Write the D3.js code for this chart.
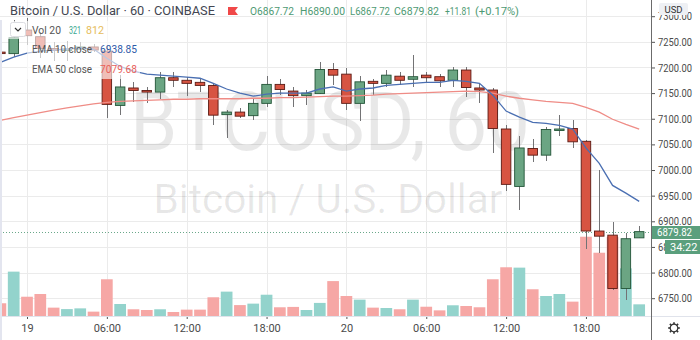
<!DOCTYPE html>
<meta charset="utf-8">
<style>
body { margin: 0; background: #fff; }
svg { display: block; font-family: Roboto, "Liberation Sans", sans-serif; }
.grid line { stroke: #ebebeb; stroke-width: 1px; shape-rendering: crispEdges; }
.axis text { fill: #4a4a4a; font-size: 11px; font-family: Roboto, sans-serif; }
.axis line { stroke: #555; }
.axis path { display: none; }
.wick { stroke: #737375; stroke-width: 1px; shape-rendering: crispEdges; }
.legend { font-size: 11px; fill: #555; }
</style>
<svg width="700" height="340"></svg>
<script src="https://d3js.org/d3.v7.min.js"></script>
<script>

// hourly candles, 18 Dec 22:00 -> 20 Dec 22:00
var hours = d3.utcHour.range(new Date(Date.UTC(2019, 11, 18, 22)), new Date(Date.UTC(2019, 11, 20, 23)));

var open  = [7230, 7227, 7273, 7260, 7237, 7233, 7236, 7240, 7232, 7126, 7160, 7155, 7152, 7180, 7175, 7171, 7165,
             7108, 7113, 7106, 7130, 7167, 7154, 7145, 7149, 7196, 7187, 7130, 7173, 7169, 7183, 7177, 7185,
             7182, 7175, 7195, 7160, 7156, 7080, 6968, 7042, 7029, 7078, 7081, 7056, 6881, 6873, 6769, 6867.72];
var high  = [7236, 7292, 7296, 7269, 7250, 7252, 7250, 7246, 7243, 7185, 7172, 7162, 7191, 7191, 7182, 7177, 7168,
             7117, 7120, 7138, 7183, 7177, 7161, 7157, 7211, 7209, 7198, 7183, 7178, 7196, 7191, 7224, 7191,
             7188, 7201, 7200, 7167, 7159, 7087, 7066, 7061, 7084, 7107, 7097, 7058, 7000, 6899, 6877, 6890.00];
var low   = [7222, 7220, 7243, 7218, 7212, 7212, 7232, 7230, 7101, 7107, 7133, 7130, 7138, 7162, 7144, 7152, 7087,
             7062, 7101, 7098, 7123, 7146, 7122, 7126, 7149, 7165, 7118, 7096, 7146, 7162, 7165, 7162, 7172,
             7162, 7162, 7143, 7130, 7033, 6959, 6922, 7016, 7018, 7066, 7042, 6846, 6838, 6766, 6747, 6867.72];
var close = [7228, 7258, 7262, 7237, 7233, 7236, 7240, 7234, 7128, 7162, 7155, 7152, 7180, 7175, 7169, 7165, 7107,
             7113, 7105, 7130, 7167, 7157, 7145, 7150, 7196, 7185, 7130, 7172, 7169, 7185, 7175, 7182, 7180,
             7174, 7195, 7161, 7156, 7081, 6972, 7043, 7029, 7079, 7080, 7055, 6881, 6871, 6769, 6866, 6879.82];
var volume = [350, 1220, 530, 605, 230, 190, 210, 120, 1010, 330, 185, 165, 185, 110, 175, 175, 515,
              670, 300, 340, 585, 240, 250, 165, 360, 960, 550, 450, 230, 220, 185, 450, 255,
              155, 295, 275, 240, 1010, 1340, 1330, 735, 550, 605, 395, 2180, 1740, 2170, 1310, 321];
var ema10 = [7210, 7220, 7228, 7232, 7234, 7236, 7238, 7236, 7218, 7202, 7193, 7187, 7185, 7183, 7181, 7179, 7169,
             7158, 7150, 7144, 7148, 7150, 7150, 7150, 7158, 7162, 7154, 7158, 7160, 7165, 7167, 7169, 7171,
             7171, 7175, 7173, 7169, 7146, 7115, 7103, 7093, 7091, 7087, 7080, 7043, 7013, 6970, 6955, 6938.85];
var ema50 = [7097, 7102, 7107, 7112, 7117, 7121, 7125, 7129, 7132, 7134, 7135, 7136, 7137, 7138, 7138, 7139, 7139,
             7139, 7139, 7140, 7140, 7141, 7141, 7142, 7143, 7144, 7144, 7145, 7146, 7148, 7149, 7150, 7151,
             7152, 7153, 7154, 7153, 7150, 7144, 7140, 7137, 7134, 7132, 7130, 7122, 7113, 7099, 7089, 7079.68];

var priceTicks = [6750, 6800, 6850, 6900, 6950, 7000, 7050, 7100, 7150, 7200, 7250, 7300];
var timeTicks = [Date.UTC(2019, 11, 19, 0), Date.UTC(2019, 11, 19, 6), Date.UTC(2019, 11, 19, 12), Date.UTC(2019, 11, 19, 18),
                 Date.UTC(2019, 11, 20, 0), Date.UTC(2019, 11, 20, 6), Date.UTC(2019, 11, 20, 12), Date.UTC(2019, 11, 20, 18)];
var timeLabels = ["19", "06:00", "12:00", "18:00", "20", "06:00", "12:00", "18:00"];

var lastPrice = close[close.length - 1];

var data = hours.map(function(t, i) {
  return {t: t, o: open[i], h: high[i], l: low[i], c: close[i], v: volume[i], e10: ema10[i], e50: ema50[i]};
});

var svg = d3.select("svg"),
    plotW = 651,
    plotH = 316;

var x = d3.scaleUtc()
    .domain([new Date(timeTicks[0]), new Date(timeTicks[4])])
    .range([27, 346.4]);
var y = d3.scaleLinear().domain([6750, 7300]).range([298.2, 16.2]);
var yv = d3.scaleLinear().domain([0, 2200]).range([plotH, plotH - 80]);

var step = x(hours[1]) - x(hours[0]),
    bodyW = 9.5,
    volW = step - 1.6;

svg.append("defs").append("clipPath").attr("id", "plot")
  .append("rect").attr("width", plotW).attr("height", plotH);

// grid
var grid = svg.append("g").attr("class", "grid");
grid.selectAll(".h").data(priceTicks).enter().append("line")
    .attr("x1", 0).attr("x2", plotW)
    .attr("y1", function(d) { return Math.round(y(d)) + 0.5; })
    .attr("y2", function(d) { return Math.round(y(d)) + 0.5; });
grid.selectAll(".v").data(timeTicks).enter().append("line")
    .attr("y1", 0).attr("y2", plotH)
    .attr("x1", function(d) { return Math.round(x(d)) + 0.5; })
    .attr("x2", function(d) { return Math.round(x(d)) + 0.5; });

var plot = svg.append("g").attr("clip-path", "url(#plot)");

// watermark
plot.append("text")
    .attr("x", 330).attr("y", 150)
    .attr("text-anchor", "middle")
    .attr("textLength", 400).attr("lengthAdjust", "spacingAndGlyphs")
    .style("font-size", "82px").style("fill", "rgba(0,0,0,0.09)")
    .text("BTCUSD, 60");
plot.append("text")
    .attr("x", 328).attr("y", 213)
    .attr("text-anchor", "middle")
    .attr("textLength", 349).attr("lengthAdjust", "spacingAndGlyphs")
    .style("font-size", "41px").style("fill", "rgba(0,0,0,0.09)")
    .text("Bitcoin / U.S. Dollar");

// volume
plot.selectAll(".vol").data(data).enter().append("rect")
    .attr("x", function(d) { return x(d.t) - volW / 2; })
    .attr("y", function(d) { return yv(d.v); })
    .attr("width", volW)
    .attr("height", function(d) { return plotH - yv(d.v); })
    .style("fill", function(d) { return d.c >= d.o ? "#93d3cc" : "#f6a7a5"; });

// last price dotted line
plot.append("line")
    .attr("x1", 0).attr("x2", plotW)
    .attr("y1", Math.round(y(lastPrice)) + 0.5).attr("y2", Math.round(y(lastPrice)) + 0.5)
    .style("stroke", "#6aa88a").style("stroke-dasharray", "1,2");

// candles
var candle = plot.selectAll(".candle").data(data).enter().append("g");
candle.append("line").attr("class", "wick")
    .attr("x1", function(d) { return Math.round(x(d.t)) + 0.5; })
    .attr("x2", function(d) { return Math.round(x(d.t)) + 0.5; })
    .attr("y1", function(d) { return y(d.h); })
    .attr("y2", function(d) { return y(d.l); });
candle.append("rect")
    .attr("x", function(d) { return x(d.t) - bodyW / 2; })
    .attr("y", function(d) { return y(Math.max(d.o, d.c)); })
    .attr("width", bodyW)
    .attr("height", function(d) { return Math.max(1.5, Math.abs(y(d.o) - y(d.c))); })
    .style("fill", function(d) { return d.c >= d.o ? "#6ba583" : "#d75442"; })
    .style("stroke", function(d) { return d.c >= d.o ? "#225437" : "#5b1a13"; })
    .style("stroke-width", 0.9);

// EMAs
var ema = function(key) {
  return d3.line().x(function(d) { return x(d.t); }).y(function(d) { return y(d[key]); });
};
plot.append("path").datum(data).attr("d", ema("e50"))
    .style("fill", "none").style("stroke", "#ef8c86").style("stroke-width", 1.3);
plot.append("path").datum(data).attr("d", ema("e10"))
    .style("fill", "none").style("stroke", "#4a6fb2").style("stroke-width", 1.3);

// legend
var f2 = d3.format(".2f");
var leg = svg.append("g");
leg.append("rect").attr("x", 8).attr("y", 21).attr("width", 102).attr("height", 18).style("fill", "rgba(255,255,255,0.62)");
leg.append("rect").attr("x", 27).attr("y", 39).attr("width", 113).attr("height", 20).style("fill", "rgba(255,255,255,0.62)");
leg.append("rect").attr("x", 27).attr("y", 59).attr("width", 113).attr("height", 20).style("fill", "rgba(255,255,255,0.62)");
leg.append("rect").attr("x", 10.5).attr("y", 22.5).attr("width", 15).attr("height", 14).attr("rx", 2)
    .style("fill", "#fff").style("stroke", "#dcdde2");
leg.append("path").attr("d", "M15,28 L18,31 L21,28").style("fill", "none").style("stroke", "#333").style("stroke-width", 1.2);

var legendItems = [
  {x: 32, y: 33.5, w: 29, s: "Vol 20", c: "#555"},
  {x: 69, y: 33.5, w: 12, s: String(volume[volume.length - 1]), c: "#3aa88f"},
  {x: 86, y: 33.5, w: 18, s: "812", c: "#e6bd5c"},
  {x: 32, y: 53, w: 60, s: "EMA 10 close", c: "#555"},
  {x: 100, y: 53, w: 37, s: f2(ema10[ema10.length - 1]), c: "#2e5aa8"},
  {x: 32, y: 73, w: 60, s: "EMA 50 close", c: "#555"},
  {x: 100, y: 73, w: 37, s: f2(ema50[ema50.length - 1]), c: "#e8605a"}
];
leg.selectAll(".legend").data(legendItems).enter().append("text")
    .attr("class", "legend")
    .attr("x", function(d) { return d.x; }).attr("y", function(d) { return d.y; })
    .attr("textLength", function(d) { return d.w; }).attr("lengthAdjust", "spacingAndGlyphs")
    .style("fill", function(d) { return d.c; })
    .text(function(d) { return d.s; });

// title row
svg.append("text").attr("x", 10).attr("y", 15).style("font-size", "13px").style("fill", "#434651")
    .attr("textLength", 205).attr("lengthAdjust", "spacingAndGlyphs")
    .text("Bitcoin / U.S. Dollar \u00b7 60 \u00b7 COINBASE");
svg.append("path").attr("d", "M228,7 L238,7 L235,11 L238,15 L228,15 Z").style("fill", "#f04848");

var ohlc = [
  {x: 250, w: 44, s: "O" + f2(open[open.length - 1])},
  {x: 300, w: 45, s: "H" + f2(high[high.length - 1])},
  {x: 350, w: 40, s: "L" + f2(low[low.length - 1])},
  {x: 394, w: 45, s: "C" + f2(lastPrice)},
  {x: 445, w: 26, s: "+11.81"},
  {x: 475, w: 44, s: "(+0.17%)"}
];
svg.selectAll(".ohlc").data(ohlc).enter().append("text")
    .attr("x", function(d) { return d.x; }).attr("y", 15)
    .attr("textLength", function(d) { return d.w; }).attr("lengthAdjust", "spacingAndGlyphs")
    .style("font-size", "11.5px").style("fill", "#4e9a73")
    .text(function(d) { return d.s; });

// price axis
svg.append("g").attr("class", "axis")
    .attr("transform", "translate(" + plotW + ",0)")
    .call(d3.axisRight(y).tickValues(priceTicks).tickFormat(f2).tickSize(4).tickPadding(3))
  .selectAll("text")
    .attr("textLength", 34).attr("lengthAdjust", "spacingAndGlyphs");

// time axis
svg.append("g").attr("class", "axis")
    .attr("transform", "translate(0," + plotH + ")")
    .call(d3.axisBottom(x).tickValues(timeTicks.map(function(d) { return new Date(d); }))
      .tickFormat(function(d, i) { return timeLabels[i]; }).tickSize(3).tickPadding(5));

// frame lines
svg.append("line").attr("x1", 0).attr("x2", 700).attr("y1", plotH + 0.5).attr("y2", plotH + 0.5)
    .style("stroke", "#e0e3eb");
svg.append("line").attr("x1", plotW + 0.5).attr("x2", plotW + 0.5).attr("y1", 0).attr("y2", 340)
    .style("stroke", "#6b6b6b");
svg.append("rect").attr("x", 0).attr("y", 20).attr("width", 2).attr("height", 320).style("fill", "#e3e5ef");

// USD badge
svg.append("rect").attr("x", 659).attr("y", 3).attr("width", 29).attr("height", 12).attr("rx", 2).style("fill", "#eef0f4");
svg.append("text").attr("x", 673.5).attr("y", 12.5).attr("text-anchor", "middle")
    .style("font-size", "9.5px").style("fill", "#333").text("USD");

// last price + countdown labels
var ly = Math.round(y(lastPrice));
svg.append("rect").attr("x", 652).attr("y", ly - 6).attr("width", 48).attr("height", 13).style("fill", "#5a9f7d");
svg.append("text").attr("x", 657).attr("y", ly + 4).style("font-size", "11px").style("fill", "#fff")
    .attr("textLength", 35).attr("lengthAdjust", "spacingAndGlyphs").text(f2(lastPrice));
svg.append("rect").attr("x", 665).attr("y", ly + 8).attr("width", 35).attr("height", 14).style("fill", "#5a9f7d");
svg.append("text").attr("x", 670).attr("y", ly + 19).style("font-size", "11px").style("fill", "#fff").text("34:22");

// gear
var gear = svg.append("g").attr("transform", "translate(674,328)").style("stroke", "#333").style("fill", "none");
gear.append("circle").attr("r", 3.8).style("stroke-width", 1.2);
gear.selectAll("line").data(d3.range(8)).enter().append("line")
    .attr("x1", function(d) { return 3.8 * Math.cos(d * Math.PI / 4); })
    .attr("y1", function(d) { return 3.8 * Math.sin(d * Math.PI / 4); })
    .attr("x2", function(d) { return 5.8 * Math.cos(d * Math.PI / 4); })
    .attr("y2", function(d) { return 5.8 * Math.sin(d * Math.PI / 4); })
    .style("stroke-width", 1.6);

</script>
